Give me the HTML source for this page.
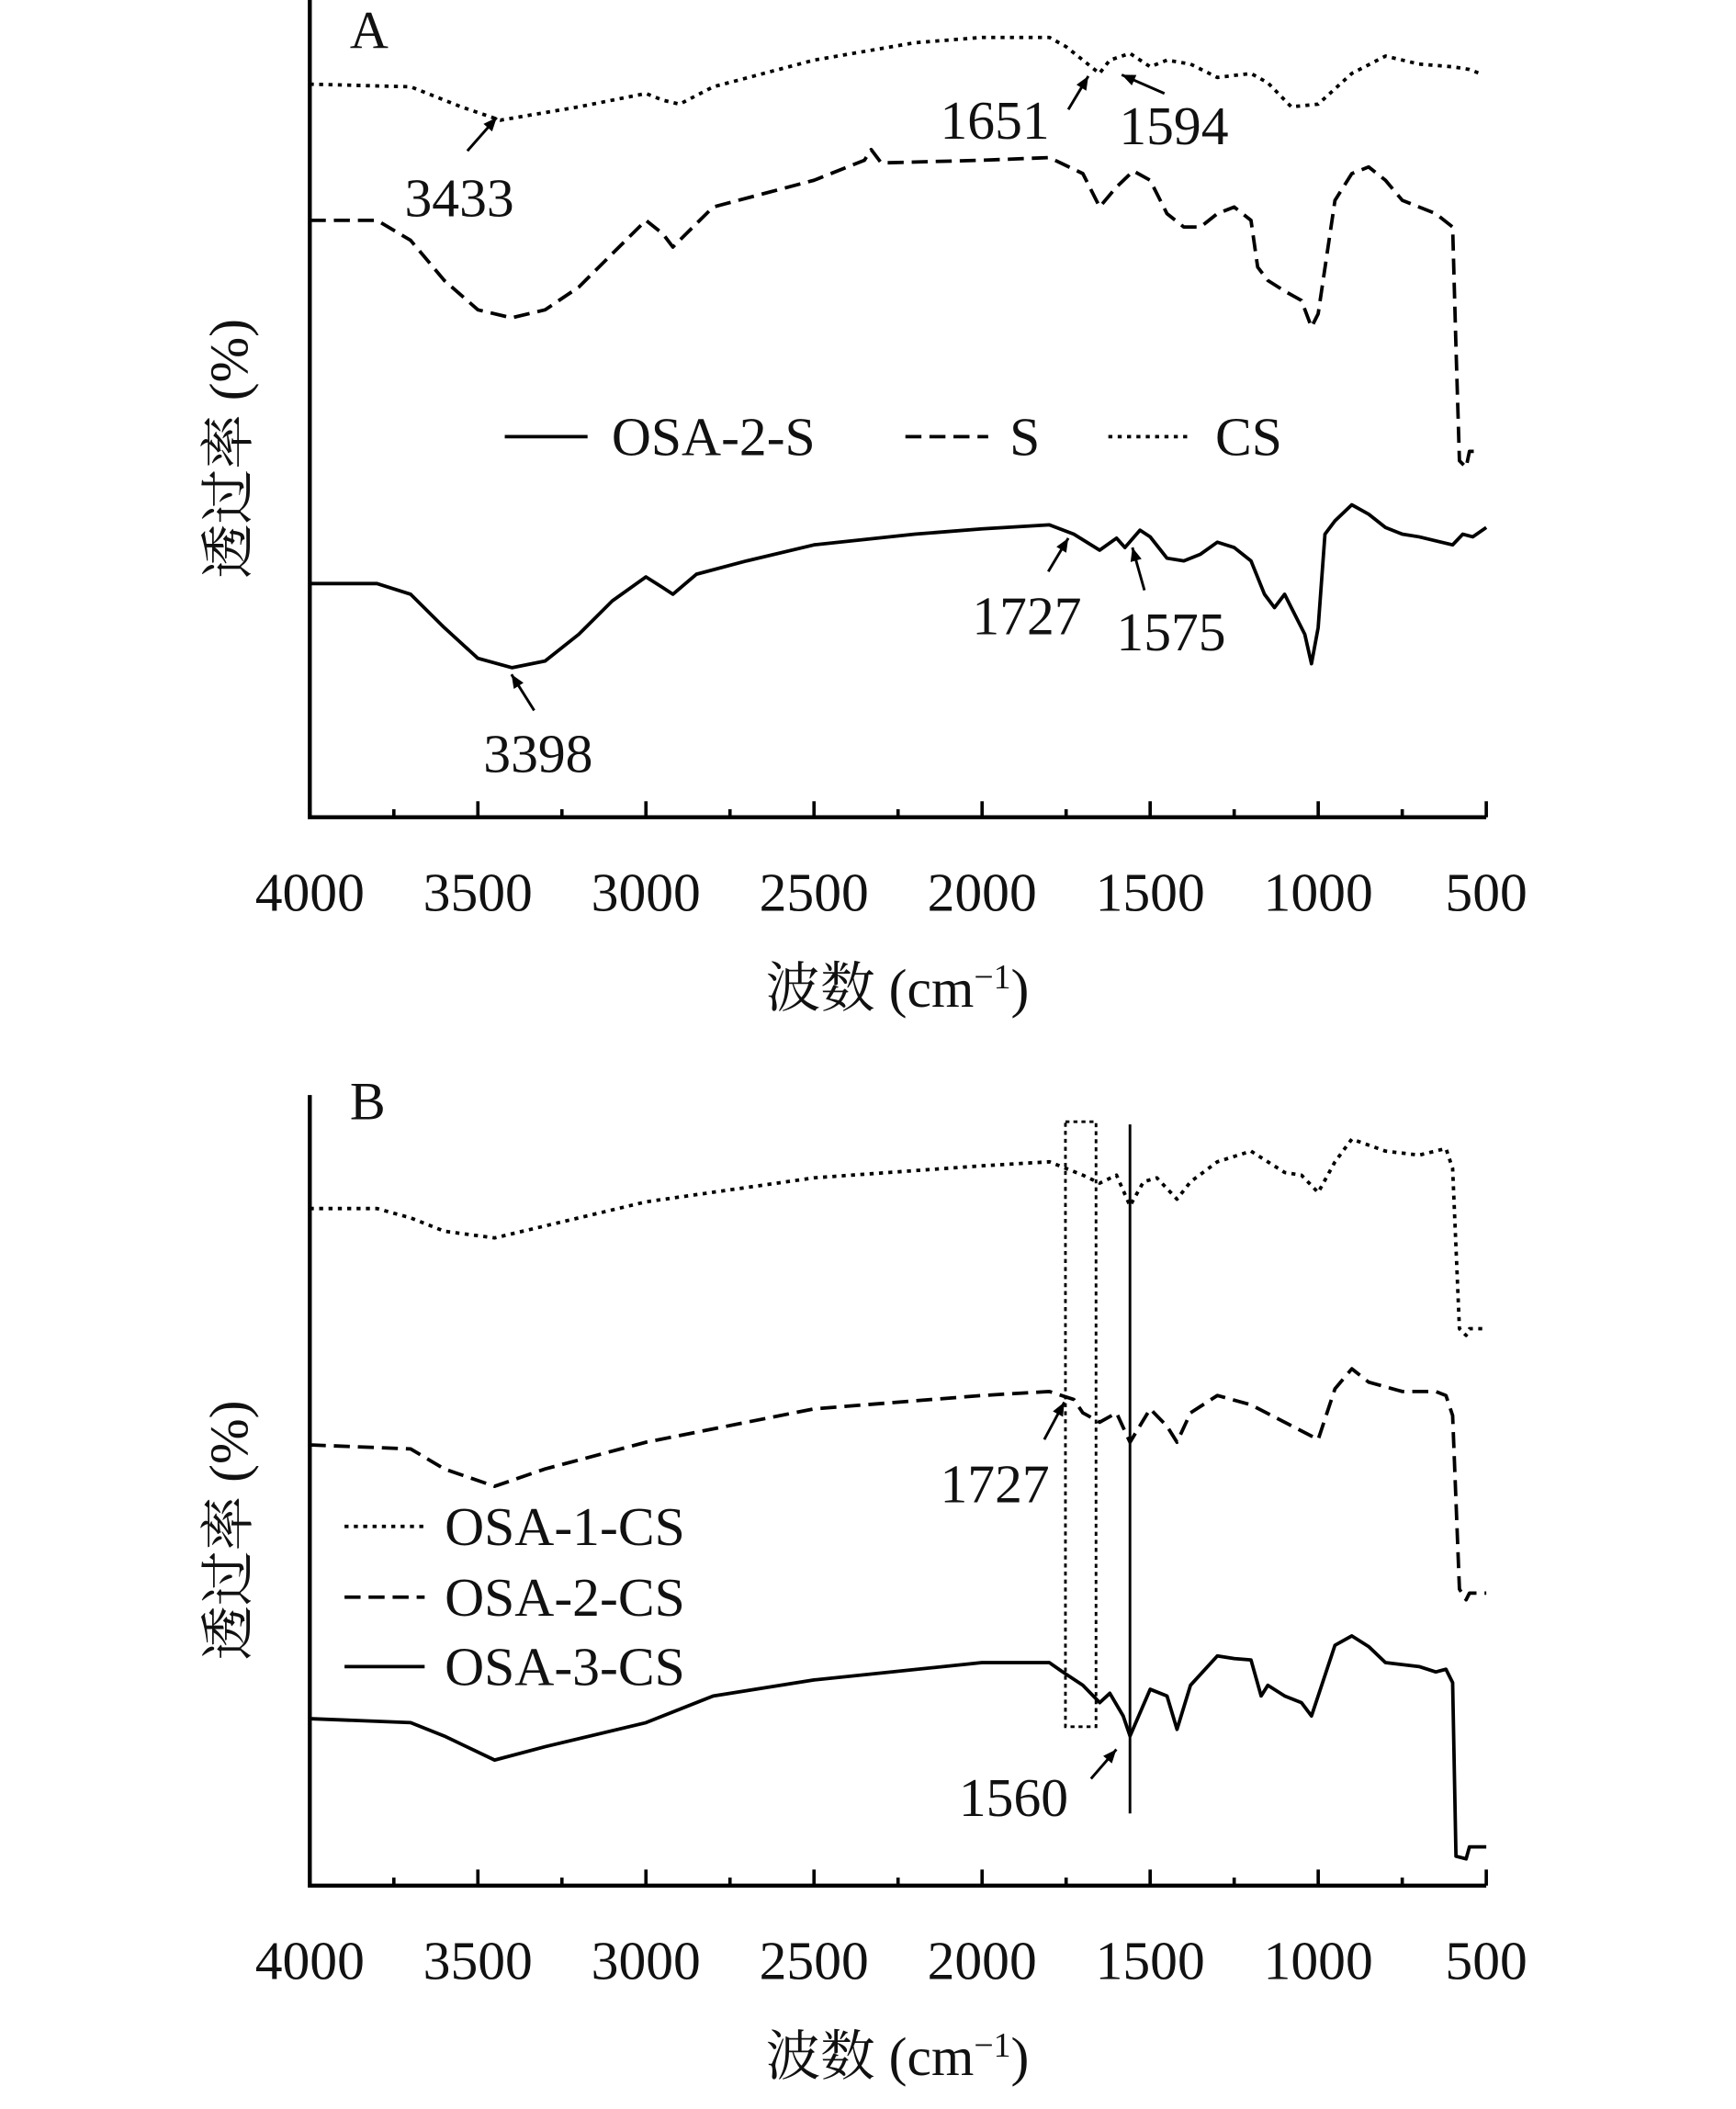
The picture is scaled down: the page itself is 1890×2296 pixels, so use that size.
<!DOCTYPE html>
<html><head><meta charset="utf-8"><style>
html,body{margin:0;padding:0;background:#fff;}
svg{display:block;}
text{font-family:"Liberation Serif","Noto Serif CJK SC",serif;fill:#111;}
</style></head><body>
<svg id="chart" width="1890" height="2296" viewBox="0 0 1300 1579.3" preserveAspectRatio="none" xmlns="http://www.w3.org/2000/svg"></svg>
<script>
// ---- data (wavenumber cm-1, relative transmittance units) ----
const ticksX = [4000,3500,3000,2500,2000,1500,1000,500];
const csWn = [4000,3700,3550,3433,3200,3000,2950,2900,2800,2500,2200,2000,1800,1750,1700,1651,1620,1560,1500,1450,1380,1300,1200,1150,1080,1000,900,800,700,600,550,520];
const csVal = [549,547,532,522,532,542,537,534,547,567,580,584,584,577,567,557,567,572,562,567,564,554,557,550,532,534,557,570,564,562,560,557];
const sWn = [4000,3800,3700,3600,3500,3400,3300,3200,3100,3000,2950,2920,2880,2800,2500,2350,2330,2300,2000,1800,1700,1650,1600,1550,1500,1450,1400,1350,1300,1250,1200,1180,1150,1100,1050,1020,1000,950,900,850,800,750,700,650,600,590,580,560,550,520];
const sVal = [447,447,432,402,380,374,380,397,422,447,437,427,437,457,477,492,500,490,492,494,482,457,472,484,477,452,442,442,452,457,447,412,402,394,387,367,377,462,482,487,477,462,457,452,442,352,267,262,274,274];
const o2sWn = [4000,3800,3700,3600,3500,3398,3300,3200,3100,3000,2950,2920,2850,2700,2500,2200,2000,1800,1727,1650,1600,1575,1530,1500,1450,1400,1350,1300,1250,1200,1160,1130,1100,1080,1040,1020,1000,980,950,900,850,800,750,700,650,600,570,540,500];
const o2sVal = [175,175,167,142,119,112,117,137,162,180,172,167,182,192,204,212,216,219,212,200,209,202,215,210,194,192,197,206,202,192,167,157,167,157,137,115,142,212,222,234,227,217,212,210,207,204,212,210,217];
const b1Wn = [4000,3800,3700,3600,3450,3300,3000,2500,2000,1800,1750,1700,1650,1600,1560,1520,1480,1420,1380,1300,1200,1100,1050,1000,950,900,800,700,620,600,580,560,550,500];
const b1Val = [507,507,500,490,485,494,512,530,539,542,537,532,526,532,509,527,530,514,527,542,550,534,532,519,542,559,550,547,552,537,417,412,417,417];
const b2Wn = [4000,3700,3600,3450,3300,3000,2500,2000,1800,1727,1700,1650,1600,1560,1500,1450,1420,1380,1300,1200,1100,1000,950,900,850,750,650,620,600,580,560,550,500];
const b2Val = [330,327,312,299,312,332,357,367,370,364,354,347,354,332,357,344,332,354,367,360,347,334,372,387,377,370,370,367,352,222,214,219,219];
const b3Wn = [4000,3700,3600,3450,3300,3000,2800,2500,2000,1800,1760,1700,1650,1620,1580,1560,1500,1450,1420,1380,1300,1250,1200,1170,1150,1100,1050,1020,1000,950,900,850,800,700,650,620,600,590,560,550,500];
const b3Val = [125,122,112,94,104,122,142,154,167,167,160,150,137,144,127,112,147,142,117,150,172,170,169,142,150,142,137,127,142,180,187,179,167,164,160,162,152,22,20,29,29];

const NS="http://www.w3.org/2000/svg";
const svg=document.getElementById('chart');
function mk(tag,attrs,parent){const e=document.createElementNS(NS,tag);for(const k in attrs)e.setAttribute(k,attrs[k]);(parent||svg).appendChild(e);return e;}
const X0=232,X1=1113;
function xS(w){return X0+(4000-w)*(X1-X0)/3500;}

function panel(name,top,bottom,letter,letterY){
  const g=mk('g',{});
  
  
  const ax=mk('path',{d:`M${X0},${top} V${bottom} H${X1}`,fill:'none',stroke:'#000','stroke-width':3},g);
  
  
  for(let w=4000;w>=500;w-=250){
    const major=w%500===0;
    const t=mk('line',{x1:xS(w),x2:xS(w),y1:bottom,y2:bottom-(major?12:6),stroke:'#000','stroke-width':2.5},g);
    
    
  }
  ticksX.forEach(w=>{
    const t=mk('text',{x:xS(w),y:bottom+70,'text-anchor':'middle','font-size':41},g);
    t.textContent=w;
    
    
  });
  const xl=mk('text',{x:672,y:bottom+142,'text-anchor':'middle','font-size':41},g);
  xl.innerHTML='波数 (cm<tspan dy="-14" font-size="26">−1</tspan><tspan dy="14">)</tspan>';
  
  
  const cy=(top+bottom)/2+30;
  const yl=mk('text',{x:0,y:0,'text-anchor':'middle','font-size':41,transform:`translate(185,${cy}) rotate(-90)`},g);
  yl.textContent='透过率 (%)';
  
  
  const lt=mk('text',{x:262,y:letterY,'font-size':40},g);
  lt.textContent=letter;
  
  
  return g;
}
function series(g,wn,val,bottom,dash,name){
  const d=wn.map((w,i)=>(i?'L':'M')+xS(w).toFixed(1)+','+(bottom-val[i]).toFixed(1)).join(' ');
  const p=mk('path',{d:d,fill:'none',stroke:'#000','stroke-width':2.6,'stroke-dasharray':dash,'stroke-linejoin':'round'},g);
  
  
}
function legend(g,x1,x2,y,dash,label,tx,name){
  const l=mk('line',{x1:x1,x2:x2,y1:y,y2:y,stroke:'#000','stroke-width':2.6,'stroke-dasharray':dash},g);
  
  
  const t=mk('text',{x:tx,y:y+14,'font-size':41},g);
  t.textContent=label;
  
  
}
function annot(g,label,tx,ty,ax1,ay1,ax2,ay2){
  const l=mk('line',{x1:ax1,y1:ay1,x2:ax2,y2:ay2,stroke:'#000','stroke-width':2},g);
  
  
  const ang=Math.atan2(ay2-ay1,ax2-ax1),s=11;
  const p=mk('polygon',{points:`${ax2},${ay2} ${ax2-s*Math.cos(ang-0.4)},${ay2-s*Math.sin(ang-0.4)} ${ax2-s*Math.cos(ang+0.4)},${ay2-s*Math.sin(ang+0.4)}`,fill:'#000'},g);
  
  
  const t=mk('text',{x:tx,y:ty,'font-size':41},g);
  t.textContent=label;
  
  
}
// Panel A
const A=panel('panel-a',0,612,'A',36);
series(A,csWn,csVal,612,'3,4','series-cs');
series(A,sWn,sVal,612,'12,6','series-s');
series(A,o2sWn,o2sVal,612,'none','series-osa-2-s');
legend(A,378,440,327,'none','OSA-2-S',458,'legend-osa-2-s');
legend(A,678,740,327,'12,6','S',756,'legend-s');
legend(A,830,893,327,'3,4','CS',910,'legend-cs');
annot(A,'3433',303,162,350,113,372,88);
annot(A,'1651',704,104,800,82,815,57);
annot(A,'1594',838,108,872,70,840,56);
annot(A,'3398',362,578,400,532,383,505);
annot(A,'1727',728,475,785,428,800,403);
annot(A,'1575',836,487,857,442,848,410);
// Panel B
const B=panel('panel-b',820,1412,'B',838);
series(B,b1Wn,b1Val,1412,'3,4','series-osa-1-cs');
series(B,b2Wn,b2Val,1412,'12,6','series-osa-2-cs');
series(B,b3Wn,b3Val,1412,'none','series-osa-3-cs');
const vl=mk('line',{x1:xS(1560),x2:xS(1560),y1:842,y2:1358,stroke:'#000','stroke-width':2},B);


const rc=mk('rect',{x:xS(1752),y:840,width:xS(1661)-xS(1752),height:453,fill:'none',stroke:'#000','stroke-width':2,'stroke-dasharray':'3,3'},B);


legend(B,258,318,1143,'3,4','OSA-1-CS',333,'legend-osa-1-cs');
legend(B,258,318,1196,'12,6','OSA-2-CS',333,'legend-osa-2-cs');
legend(B,258,318,1248,'none','OSA-3-CS',333,'legend-osa-3-cs');
annot(B,'1727',704,1125,782,1078,797,1050);
annot(B,'1560',718,1360,817,1332,836,1310);
</script>
</body></html>
